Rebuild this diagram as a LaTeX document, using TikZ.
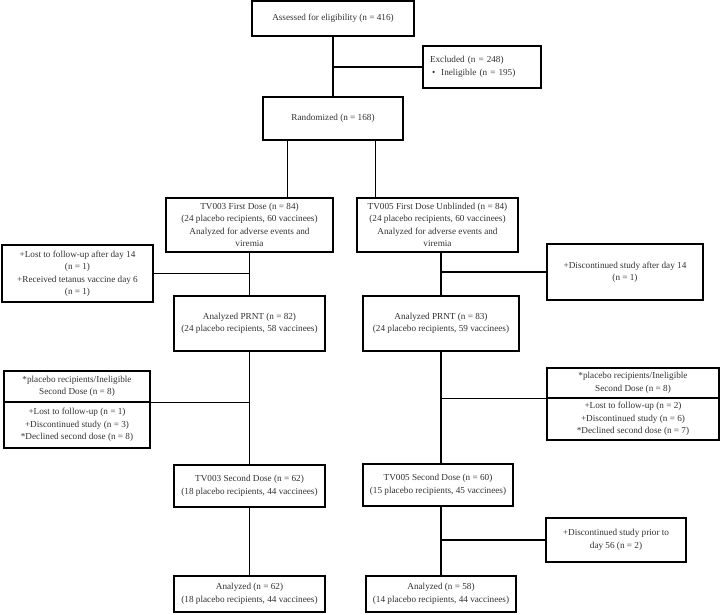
\documentclass[tikz,border=0pt]{standalone}
\usepackage{fontspec}
\setmainfont{Liberation Serif}
\usetikzlibrary{calc}
\definecolor{txt}{RGB}{50,50,50}
\newcommand\placebox[6]{\node[box, minimum width={(#4-#2)*1pt}, minimum height={(#5-#3)*1pt}] (#1) at ({(#2+#4)/2},{(#3+#5)/2}) {#6};}
\begin{document}
\begin{tikzpicture}[x=1pt,y=-1pt,
  box/.style={draw=black, line width=1.3pt, align=center, inner sep=2pt,
    font=\fontsize{9.2}{12.5}\selectfont, text=txt},
  link/.style={draw=black, line width=1.3pt}]
\useasboundingbox (0,0) rectangle (720,614);

\placebox{assess}{252}{1}{414}{36}{Assessed for eligibility (n = 416)}
\node[box, align=left, text width=104pt, inner xsep=7pt, minimum height=42pt] (excl) at (482,67)
  {Excluded (n = 248)\\\hspace*{2pt}\textbullet\hspace{6pt}Ineligible (n = 195)};
\placebox{rand}{263}{97}{403}{140}{Randomized (n = 168)}

\placebox{tv3a}{166}{198}{333}{252}{TV003 First Dose (n = 84)\\(24 placebo recipients, 60 vaccinees)\\Analyzed for adverse events and\\viremia}
\placebox{tv5a}{357}{198}{518}{252}{TV005 First Dose Unblinded (n = 84)\\(24 placebo recipients, 60 vaccinees)\\Analyzed for adverse events and\\viremia}

\placebox{lostA}{2}{245}{153}{302}{+Lost to follow-up after day 14\\(n = 1)\\+Received tetanus vaccine day 6\\(n = 1)}
\placebox{discA}{547}{244}{703}{300}{+Discontinued study after day 14\\(n = 1)}

\placebox{prnt3}{174}{296}{325}{351}{Analyzed PRNT (n = 82)\\(24 placebo recipients, 58 vaccinees)}
\placebox{prnt5}{363}{296}{519}{351}{Analyzed PRNT (n = 83)\\(24 placebo recipients, 59 vaccinees)}

\placebox{pl3a}{4}{371}{150}{402}{*placebo recipients/Ineligible\\Second Dose (n = 8)}
\placebox{pl3b}{4}{402}{150}{448}{+Lost to follow-up (n = 1)\\+Discontinued study (n = 3)\\*Declined second dose (n = 8)}
\placebox{pl5a}{547}{368}{719}{398}{*placebo recipients/Ineligible\\Second Dose (n = 8)}
\placebox{pl5b}{547}{398}{719}{440}{+Lost to follow-up (n = 2)\\+Discontinued study (n = 6)\\*Declined second dose (n = 7)}

\placebox{tv3b}{174}{465}{325}{507}{TV003 Second Dose (n = 62)\\(18 placebo recipients, 44 vaccinees)}
\placebox{tv5b}{363}{464}{513}{506}{TV005 Second Dose (n = 60)\\(15 placebo recipients, 45 vaccinees)}

\placebox{discB}{546}{518}{686}{562}{+Discontinued study prior to\\day 56 (n = 2)}

\placebox{an3}{174}{576}{325}{612}{Analyzed (n = 62)\\(18 placebo recipients, 44 vaccinees)}
\placebox{an5}{366}{576}{516}{612}{Analyzed (n = 58)\\(14 placebo recipients, 44 vaccinees)}

% connectors
\draw[link] (assess.south) -- (rand.north);
\draw[link] (assess.south |- excl.west) -- (excl.west);
\coordinate (rl) at ($(rand.south west)!0.18!(rand.south east)$);
\coordinate (rr) at ($(rand.south west)!0.8!(rand.south east)$);
\draw[link] (rl) -- (rl |- tv3a.north);
\draw[link] (rr) -- (rr |- tv5a.north);
\draw[link] (tv3a.south) -- (prnt3.north);
\draw[link] (lostA.east) -- (lostA.east -| tv3a.south);
\draw[link] (prnt5.north |- tv5a.south) -- (prnt5.north);
\draw[link] (discA.west) -- (discA.west -| prnt5.north);
\draw[link] (prnt3.south) -- (tv3b.north);
\draw[link] (pl3a.south east) -- (pl3a.south east -| prnt3.south);
\draw[link] (prnt5.south) -- (prnt5.south |- tv5b.north);
\draw[link] (pl5a.south west) -- (pl5a.south west -| prnt5.south);
\draw[link] (tv3b.south) -- (an3.north);
\draw[link] (an5.north |- tv5b.south) -- (an5.north);
\draw[link] (discB.west) -- (discB.west -| an5.north);
\end{tikzpicture}
\end{document}
